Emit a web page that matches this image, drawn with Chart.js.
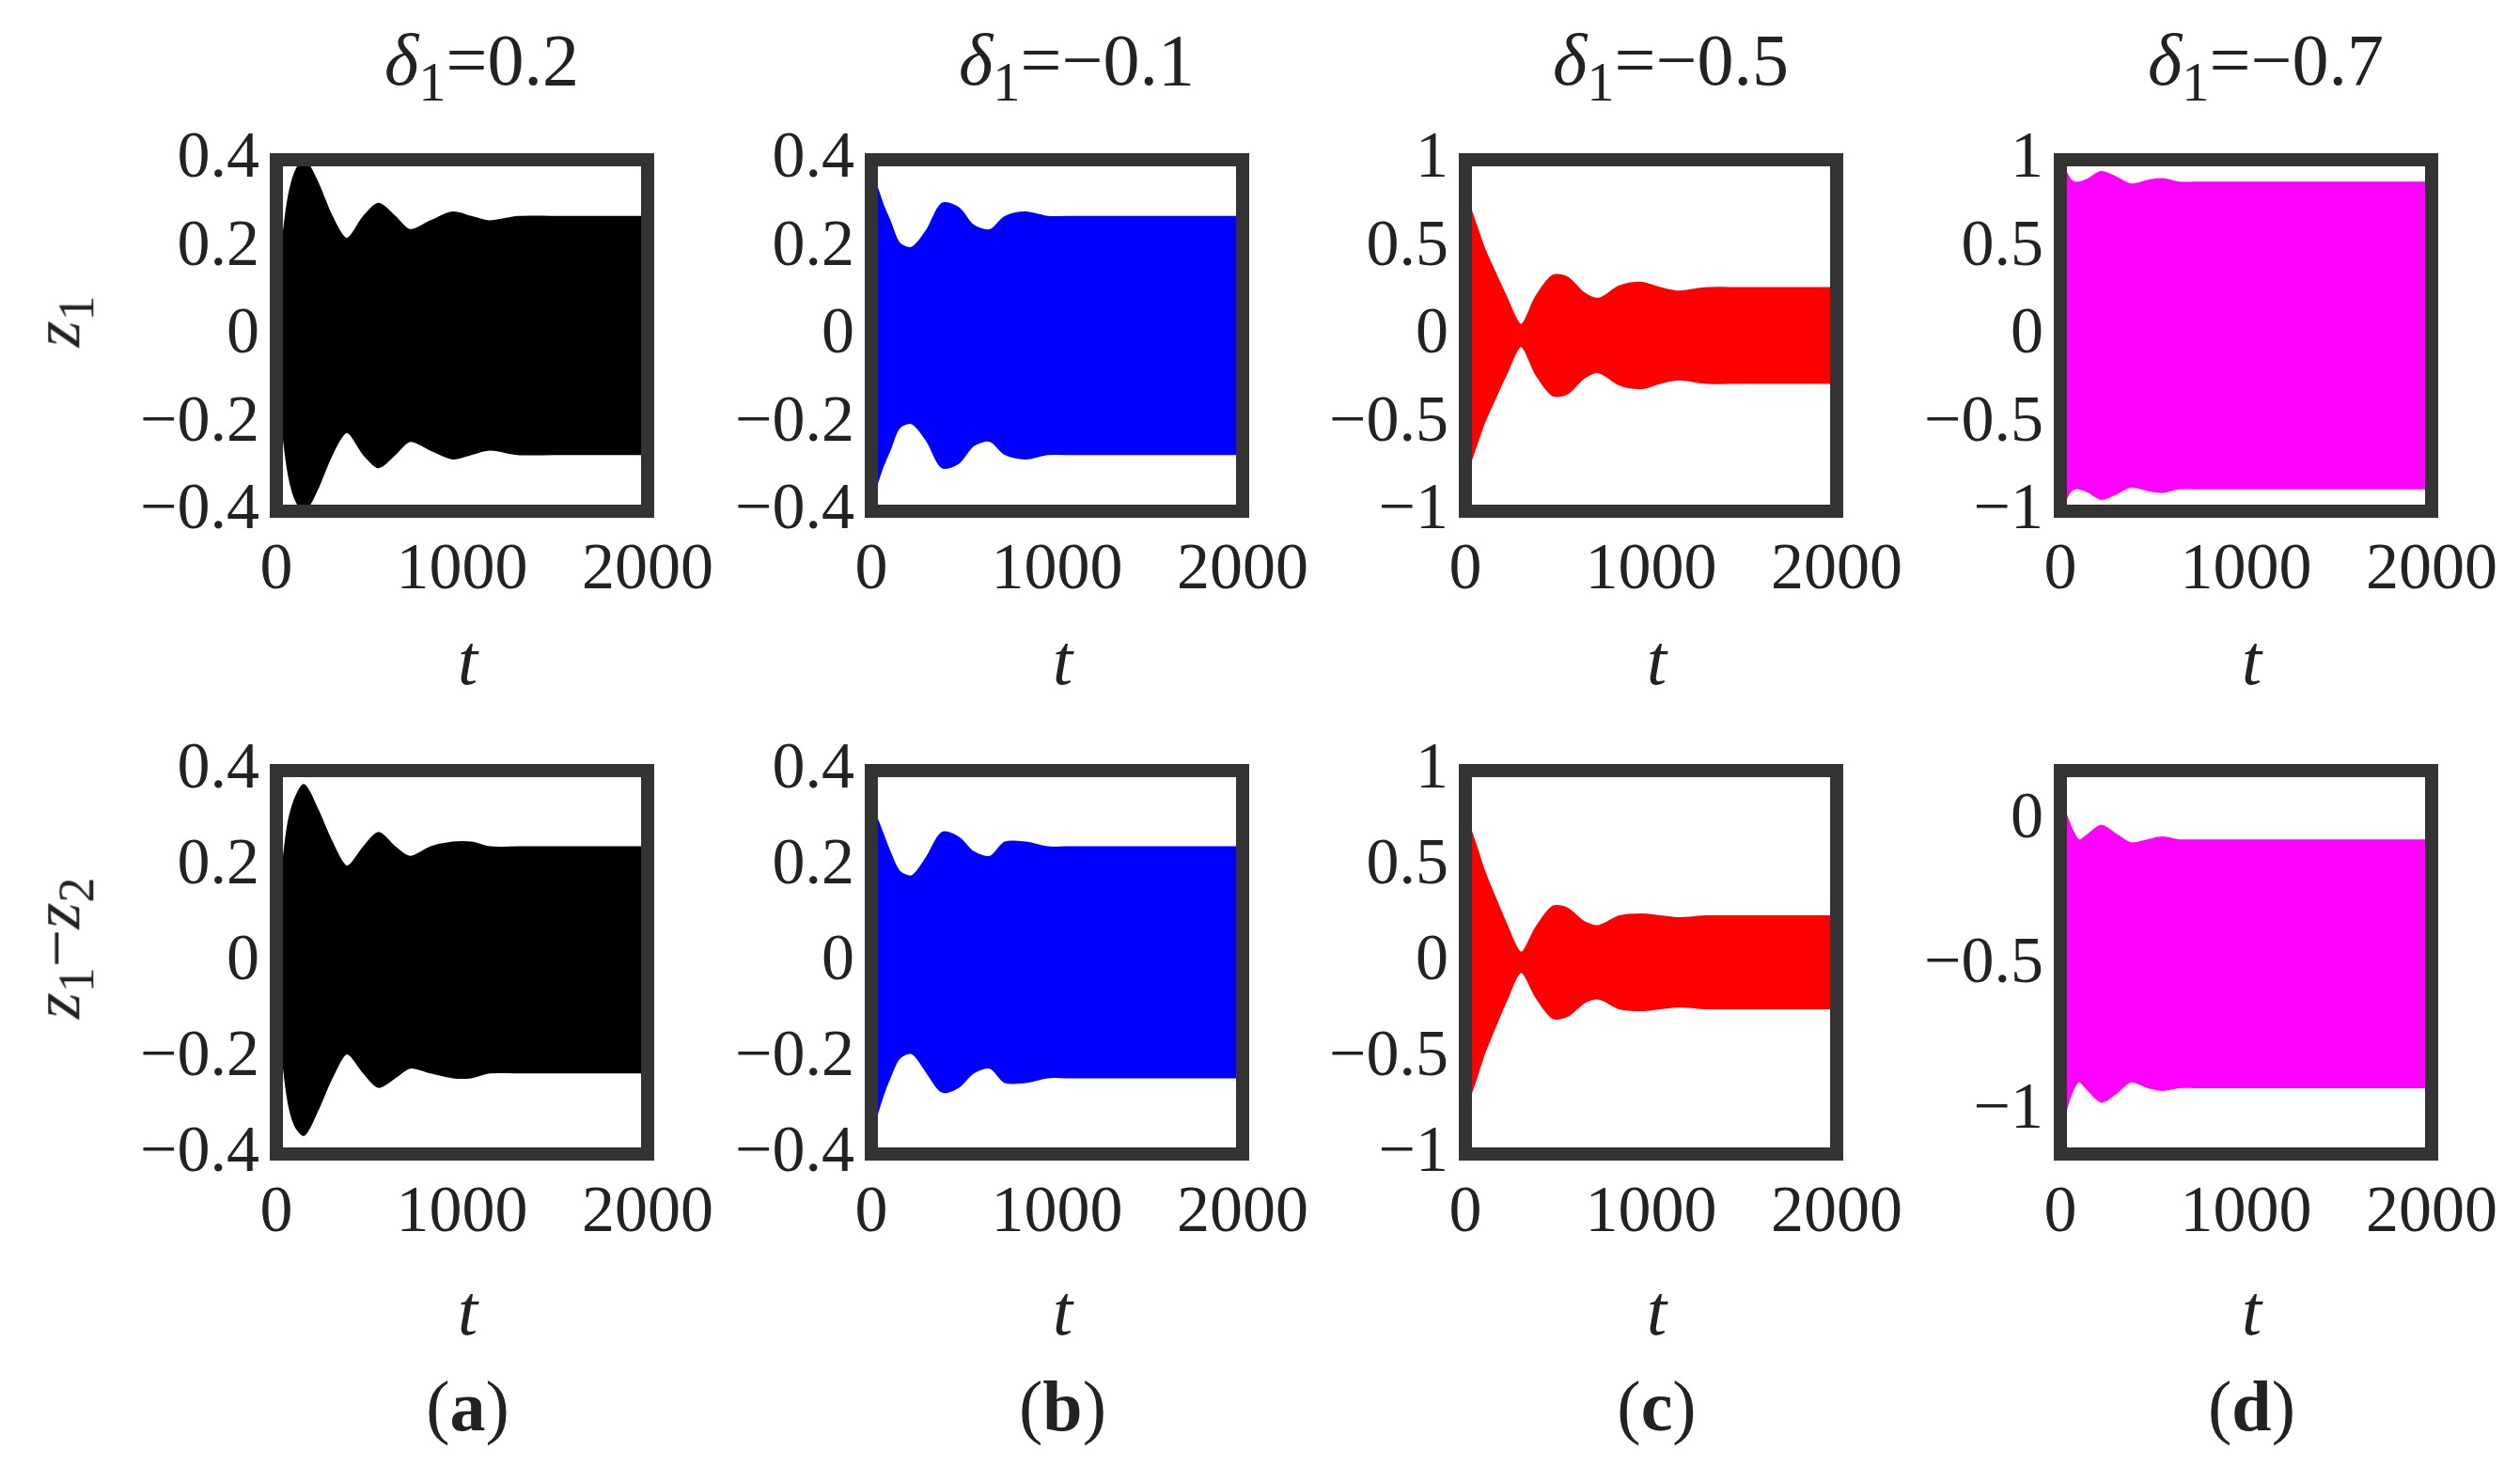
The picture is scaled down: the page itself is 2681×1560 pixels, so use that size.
<!DOCTYPE html>
<html><head><meta charset="utf-8">
<script src="https://cdn.jsdelivr.net/npm/chart.js@4/dist/chart.umd.min.js"></script>
<style>
body{margin:0;background:#fff;width:2681px;height:1560px;position:relative;overflow:hidden;font-family:"Liberation Serif",serif;}
.box{position:absolute;}
.txt{position:absolute;transform:translate(-50%,-50%);white-space:nowrap;color:#222;}
.title{font-size:78px;}
.tl{font-size:76px;font-style:italic;}
.lab{font-size:76px;}
.ylab{font-size:72px;transform:translate(-50%,-50%) rotate(-90deg);}
</style></head><body>
<script>
// time grid for envelopes
const times = [0, 20, 60, 100, 150, 220, 300, 380, 470, 550, 640, 720, 830, 950, 1050, 1150, 1300, 1500, 1700, 2000];

// top row (z1), upper / lower envelopes
const aTopUp = [0.02, 0.15, 0.3, 0.37, 0.40, 0.35, 0.27, 0.22, 0.27, 0.30, 0.27, 0.24, 0.26, 0.28, 0.27, 0.26, 0.27, 0.27, 0.27, 0.27];
const aTopLo = aTopUp.map(v => -v);
const bTopUp = [0.37, 0.35, 0.30, 0.26, 0.21, 0.20, 0.24, 0.30, 0.29, 0.25, 0.24, 0.27, 0.28, 0.27, 0.27, 0.27, 0.27, 0.27, 0.27, 0.27];
const bTopLo = bTopUp.map(v => -v);
const cTopUp = [0.77, 0.74, 0.62, 0.50, 0.38, 0.22, 0.06, 0.22, 0.34, 0.33, 0.24, 0.21, 0.28, 0.30, 0.27, 0.25, 0.27, 0.27, 0.27, 0.27];
const cTopLo = cTopUp.map(v => -v);
const dTopUp = [0.98, 0.95, 0.88, 0.87, 0.89, 0.93, 0.90, 0.86, 0.88, 0.89, 0.87, 0.87, 0.87, 0.87, 0.87, 0.87, 0.87, 0.87, 0.87, 0.87];
const dTopLo = dTopUp.map(v => -v);

// bottom row (z1 - z2)
const aBotUp = [0.02, 0.14, 0.28, 0.34, 0.37, 0.32, 0.25, 0.20, 0.24, 0.27, 0.24, 0.22, 0.24, 0.25, 0.25, 0.24, 0.24, 0.24, 0.24, 0.24];
const aBotLo = [-0.02, -0.14, -0.28, -0.34, -0.36, -0.31, -0.24, -0.19, -0.23, -0.26, -0.24, -0.22, -0.23, -0.24, -0.24, -0.23, -0.23, -0.23, -0.23, -0.23];
const bBotUp = [0.33, 0.31, 0.27, 0.23, 0.19, 0.18, 0.22, 0.27, 0.26, 0.23, 0.22, 0.25, 0.25, 0.24, 0.24, 0.24, 0.24, 0.24, 0.24, 0.24];
const bBotLo = [-0.35, -0.33, -0.28, -0.24, -0.20, -0.19, -0.23, -0.27, -0.26, -0.23, -0.22, -0.25, -0.25, -0.24, -0.24, -0.24, -0.24, -0.24, -0.24, -0.24];
const cBotUp = [0.74, 0.71, 0.60, 0.48, 0.36, 0.20, 0.05, 0.18, 0.29, 0.28, 0.21, 0.19, 0.24, 0.25, 0.24, 0.23, 0.24, 0.24, 0.24, 0.24];
const cBotLo = cBotUp.map(v => -v);
const dBotUp = [0.00, 0.03, -0.03, -0.07, -0.05, -0.02, -0.05, -0.08, -0.07, -0.06, -0.07, -0.07, -0.07, -0.07, -0.07, -0.07, -0.07, -0.07, -0.07, -0.07];
const dBotLo = [-1.05, -1.02, -0.94, -0.90, -0.93, -0.97, -0.94, -0.90, -0.92, -0.93, -0.92, -0.92, -0.92, -0.92, -0.92, -0.92, -0.92, -0.92, -0.92, -0.92];

const xTicks = [0, 1000, 2000];
const titles = ["0.2", "\u22120.1", "\u22120.5", "\u22120.7"];
const letters = ["a", "b", "c", "d"];
const colors = ["#000000", "#0000ff", "#ff0000", "#ff00ff"];

const panels = [
  {up: aTopUp, lo: aTopLo, min: -0.4, max: 0.4, step: 0.2},
  {up: bTopUp, lo: bTopLo, min: -0.4, max: 0.4, step: 0.2},
  {up: cTopUp, lo: cTopLo, min: -1, max: 1, step: 0.5},
  {up: dTopUp, lo: dTopLo, min: -1, max: 1, step: 0.5},
  {up: aBotUp, lo: aBotLo, min: -0.4, max: 0.4, step: 0.2},
  {up: bBotUp, lo: bBotLo, min: -0.4, max: 0.4, step: 0.2},
  {up: cBotUp, lo: cBotLo, min: -1, max: 1, step: 0.5},
  {up: dBotUp, lo: dBotLo, min: -1.15, max: 0.17, step: 0.5},
];

const lefts = [294, 927, 1559, 2192];
const tops = [140, 790];
const plotW = 407;
const heights = [404, 438];
const YW = 220, XH = 110, PT = 30, PR = 80;

const frame = {
  id: "frame",
  afterDatasetsDraw(chart) {
    const a = chart.chartArea, c = chart.ctx;
    c.save();
    c.lineWidth = 14;
    c.strokeStyle = "#333";
    c.strokeRect(a.left, a.top, a.right - a.left, a.bottom - a.top);
    c.restore();
  }
};

function fmt(v) {
  let s = Math.abs(v) < 1e-9 ? "0" : String(Math.round(v * 10) / 10);
  return s.replace("-", "\u2212");
}

panels.forEach((p, i) => {
  const col = i % 4, row = Math.floor(i / 4);
  const h = heights[row];
  const box = document.createElement("div");
  box.className = "box";
  box.style.left = (lefts[col] - YW) + "px";
  box.style.top = (tops[row] - PT) + "px";
  box.style.width = (plotW + YW + PR) + "px";
  box.style.height = (h + PT + XH) + "px";
  const cv = document.createElement("canvas");
  box.appendChild(cv);
  document.body.appendChild(box);

  const up = times.map((t, k) => ({x: t, y: p.up[k]}));
  const lo = times.map((t, k) => ({x: t, y: p.lo[k]}));
  const yTicks = [];
  for (let v = Math.ceil(p.min / p.step - 1e-9) * p.step; v <= p.max + 1e-9; v += p.step) yTicks.push(v);

  new Chart(cv, {
    type: "line",
    data: {
      datasets: [
        {data: up, borderColor: colors[col], borderWidth: 2, pointRadius: 0, tension: 0.3, fill: false},
        {data: lo, borderColor: colors[col], backgroundColor: colors[col], borderWidth: 2, pointRadius: 0, tension: 0.3, fill: "-1"},
      ],
    },
    options: {
      animation: false,
      responsive: true,
      maintainAspectRatio: false,
      layout: {padding: {top: PT, right: PR, left: 0, bottom: 0}},
      plugins: {legend: {display: false}, tooltip: {enabled: false}},
      scales: {
        x: {
          type: "linear", min: 0, max: 2000,
          afterFit: s => { s.height = XH; },
          afterBuildTicks: s => { s.ticks = xTicks.map(v => ({value: v})); },
          grid: {display: false, drawTicks: false},
          border: {display: false},
          ticks: {color: "#222", font: {family: "Liberation Serif", size: 70}, padding: 22, maxRotation: 0,
                  callback: v => String(v)},
        },
        y: {
          min: p.min, max: p.max,
          afterFit: s => { s.width = YW; },
          afterBuildTicks: s => { s.ticks = yTicks.map(v => ({value: v})); },
          grid: {display: false, drawTicks: false},
          border: {display: false},
          ticks: {color: "#222", font: {family: "Liberation Serif", size: 70}, padding: 18, callback: v => fmt(v)},
        },
      },
    },
    plugins: [frame],
  });
});

function addText(html, cls, x, y) {
  const d = document.createElement("div");
  d.className = "txt " + cls;
  d.style.left = x + "px";
  d.style.top = y + "px";
  d.innerHTML = html;
  document.body.appendChild(d);
}

lefts.forEach((l, c) => {
  const cx = l + plotW / 2;
  addText('<i>&delta;</i><sub style="font-size:0.75em">1</sub>=' + titles[c], "title", cx + 15, 70);
  addText("t", "tl", cx, 702);
  addText("t", "tl", cx, 1394);
  addText("(<b>" + letters[c] + "</b>)", "lab", cx, 1496);
});
addText('<i>z</i><sub style="font-size:0.75em">1</sub>', "ylab", 66, 342);
addText('<i>z</i><sub style="font-size:0.75em">1</sub>\u2212<i>z</i><sub style="font-size:0.75em">2</sub>', "ylab", 66, 1009);
</script>
</body></html>
